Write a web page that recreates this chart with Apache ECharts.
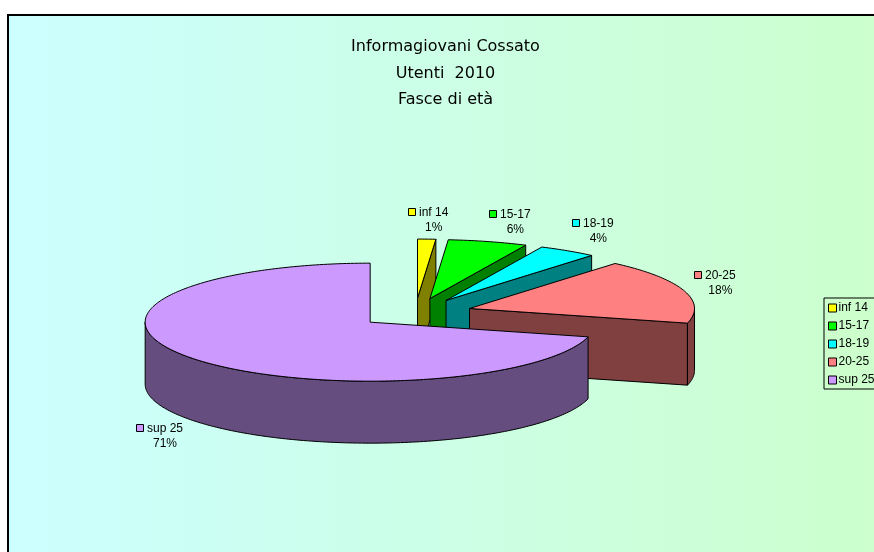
<!DOCTYPE html>
<html>
<head>
<meta charset="utf-8">
<style>
  html, body { margin: 0; padding: 0; background: #fff; }
  #chart { width: 874px; height: 552px; }
</style>
<script src="https://cdn.jsdelivr.net/npm/echarts@6/dist/echarts.min.js"></script>
</head>
<body>
<div id="chart"></div>
<script>
const categories = ['inf 14', '15-17', '18-19', '20-25', 'sup 25'];
const shares = [1.3, 5.7, 4.2, 17.8, 71.0];
const percentLabels = ['1%', '6%', '4%', '18%', '71%'];
const titleLines = ['Informagiovani Cossato', 'Utenti  2010', 'Fasce di età'];

const topColors = ['#ffff00', '#00ff00', '#00ffff', '#ff8080', '#cc99ff'];
const wallColors = ['#808000', '#008000', '#008080', '#804040', '#664d80'];

// pie projection: flattened circle, slices pushed out along their mid angle
const pie = { cx: 415.2, cy: 313, rx: 225, ry: 59, depth: 62, explode: 57 };
// top-left of each data label's colour swatch
const labelSpots = [[408, 208], [489, 210], [572, 219], [694, 271], [136, 424]];
const labelFont = '12px "Liberation Sans", Arial, sans-serif';

const rad = (deg) => (deg * Math.PI) / 180;
const total = shares.reduce((a, b) => a + b, 0);
const measure = document.createElement('canvas').getContext('2d');
measure.font = labelFont;

function arcPoints(c, from, to, drop) {
  const pts = [];
  const steps = Math.max(2, Math.ceil(to - from));
  for (let k = 0; k <= steps; k++) {
    const t = rad(from + ((to - from) * k) / steps);
    pts.push([c[0] + pie.rx * Math.sin(t), c[1] - pie.ry * Math.cos(t) + drop]);
  }
  return pts;
}

function face(points, fill) {
  return {
    type: 'polygon',
    shape: { points },
    style: { fill, stroke: '#000', lineWidth: 1, lineJoin: 'round' },
  };
}

function labelText(text, x, y, align) {
  return {
    type: 'text',
    style: { text, x, y, align, verticalAlign: 'middle', fill: '#000', font: labelFont },
  };
}

function renderSlice(params, api) {
  const i = params.seriesIndex;
  const before = shares.slice(0, i).reduce((a, b) => a + b, 0);
  const start = (before / total) * 360;
  const end = ((before + api.value(0)) / total) * 360;
  const mid = rad((start + end) / 2);
  const scale = pie.explode / pie.rx;
  const c = [pie.cx + pie.rx * scale * Math.sin(mid), pie.cy - pie.ry * scale * Math.cos(mid)];
  const d = pie.depth;
  const children = [];

  // cut side facing the viewer
  if (Math.sin(rad(end)) > 0.001) {
    const p = arcPoints(c, end, end, 0)[0];
    children.push(face([c, p, [p[0], p[1] + d], [c[0], c[1] + d]], wallColors[i]));
  }
  if (Math.sin(rad(start)) < -0.001) {
    const p = arcPoints(c, start, start, 0)[0];
    children.push(face([c, p, [p[0], p[1] + d], [c[0], c[1] + d]], wallColors[i]));
  }
  // rim, only the front half of the ellipse shows
  const rimFrom = Math.max(start, 90);
  const rimTo = Math.min(end, 270);
  if (rimTo > rimFrom) {
    const rim = arcPoints(c, rimFrom, rimTo, 0).concat(arcPoints(c, rimFrom, rimTo, d).reverse());
    children.push(face(rim, wallColors[i]));
  }
  children.push(face([c].concat(arcPoints(c, start, end, 0)), topColors[i]));

  const [lx, ly] = labelSpots[i];
  children.push({
    type: 'rect',
    shape: { x: lx + 0.5, y: ly + 0.5, width: 7, height: 7 },
    style: { fill: topColors[i], stroke: '#000', lineWidth: 1 },
  });
  children.push(labelText(categories[i], lx + 11, ly + 4.5, 'left'));
  // percent line sits centred under the category text
  const nameWidth = measure.measureText(categories[i]).width;
  children.push(labelText(percentLabels[i], lx + 11 + nameWidth / 2, ly + 19.5, 'center'));

  return { type: 'group', children };
}

const myChart = echarts.init(document.getElementById('chart'), null, { renderer: 'canvas' });
myChart.setOption({
  animation: false,
  tooltip: { show: false },
  title: {
    text: titleLines.join('\n'),
    left: 440.5,
    top: 29,
    textAlign: 'center',
    textStyle: {
      fontFamily: '"DejaVu Sans", Verdana, sans-serif',
      fontSize: 16,
      fontWeight: 'normal',
      color: '#000',
      lineHeight: 26.5,
    },
  },
  graphic: [{
    type: 'rect',
    z: -1,
    shape: { x: 8, y: 15, width: 880, height: 550 },
    style: {
      fill: {
        type: 'linear',
        x: 0, y: 0, x2: 1, y2: 0,
        colorStops: [
          { offset: 0, color: '#ccffff' },
          { offset: 1, color: '#ccffcc' },
        ],
      },
      stroke: '#000',
      lineWidth: 2,
    },
  }],
  legend: {
    orient: 'vertical',
    left: 824,
    top: 298,
    padding: [4, 3, 3, 4],
    itemWidth: 8,
    itemHeight: 8,
    itemGap: 6,
    icon: 'rect',
    selectedMode: false,
    backgroundColor: '#ccffcc',
    borderColor: '#000',
    borderWidth: 1,
    borderRadius: 0,
    itemStyle: { borderColor: '#000', borderWidth: 1 },
    textStyle: { fontFamily: '"Liberation Sans", Arial, sans-serif', fontSize: 12, color: '#000', padding: [0, 0, 0, -3] },
    data: categories,
  },
  series: categories.map((name, i) => ({
    name,
    type: 'custom',
    coordinateSystem: 'none',
    silent: true,
    itemStyle: { color: topColors[i] },
    renderItem: renderSlice,
    data: [[shares[i]]],
  })),
});
</script>
</body>
</html>
